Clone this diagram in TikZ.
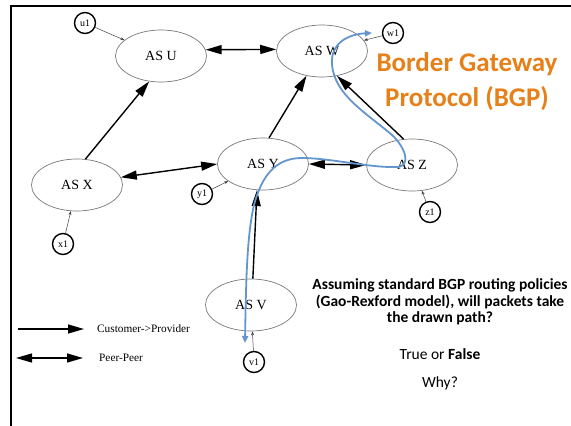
\documentclass[tikz,border=0pt]{standalone}
\usepackage{fontspec}
\setmainfont{Liberation Serif}
\newfontfamily\carlito{Carlito}
\usetikzlibrary{shapes.geometric,arrows.meta}
\definecolor{bgporange}{RGB}{230,128,25}
\definecolor{pathblue}{RGB}{100,150,205}
\definecolor{ellgray}{RGB}{120,120,120}
\begin{document}
\begin{tikzpicture}[x=1pt,y=-1pt,
  asnode/.style={ellipse,draw=ellgray,line width=0.7pt,minimum width=91pt,minimum height=52pt,inner sep=0pt,font=\fontsize{14}{16}\selectfont},
  hostnode/.style={circle,draw=black,line width=1.4pt,minimum size=21pt,inner sep=0pt,font=\fontsize{10}{11}\selectfont},
  hostlink/.style={draw=darkgray,line width=0.5pt,-{Stealth[length=4pt,width=3pt]}},
  cp/.style={line width=1.4pt,-{Triangle[length=16pt,width=9pt]}},
  pp/.style={line width=1.4pt,{Triangle[length=16pt,width=9pt]}-{Triangle[length=16pt,width=9pt]}},
  route/.style={draw=pathblue,line width=1.8pt,{Triangle[length=7pt,width=6pt]}-{Triangle[length=7pt,width=6pt]}},
  legendtext/.style={anchor=west,inner sep=0pt,font=\fontsize{11.3}{13}\selectfont}
  ]
\useasboundingbox (0,0) rectangle (571,426);
\draw[line width=2.5pt] (571,6) -- (11,6) -- (11,426);

% AS nodes
\node[asnode] (U) at (161,56) {AS U};
\node[asnode] (W) at (322,51) {AS W};
\node[asnode] (X) at (77,185) {AS X};
\node[asnode] (Y) at (263,164) {AS Y};
\node[asnode] (Z) at (412,165) {AS Z};
\node[asnode] (V) at (251,305) {AS V};

% host nodes
\node[hostnode] (u1) at (85,23) {u1};
\node[hostnode] (w1) at (393,33) {w1};
\node[hostnode] (y1) at (202,194) {y1};
\node[hostnode] (x1) at (63,244) {x1};
\node[hostnode] (z1) at (430,212) {z1};
\node[hostnode] (v1) at (254,362) {v1};

\draw[hostlink] (u1) -- (U);
\draw[hostlink] (w1) -- (W);
\draw[hostlink] (y1) -- (Y);
\draw[hostlink] (x1) -- (X);
\draw[hostlink] (z1) -- (Z);
\draw[hostlink] (v1) -- (V);

% relationships
\draw[cp] (X.72) -- (U.245);
\draw[pp] (U.8) -- (W.178);
\draw[pp] (X.10) -- (Y.180);
\draw[cp] (Y.77) -- (W.238);
\draw[cp] (Z.108) -- (W.301);
\draw[pp] (Y.0) -- (Z.180);
\draw[cp] (V.86) -- (Y.257);

% drawn path
\draw[route] (245,343) .. controls (246,280) and (247,235) .. (254,205)
  .. controls (262,175) and (276,158) .. (302,158)
  .. controls (330,158) and (370,168) .. (397,167)
  .. controls (412,166) and (405,147) .. (392,135)
  .. controls (365,112) and (335,95) .. (332,65)
  .. controls (330,42) and (350,34) .. (372,33);

% title
\node[text=bgporange,align=center,font=\carlito\bfseries\fontsize{27}{35}\selectfont] (title) at (467,82) {Border Gateway\\Protocol (BGP)};

% question
\node[align=center,font=\carlito\fontsize{15.5}{16.5}\selectfont] (q) at (440,302) {\textbf{Assuming standard BGP routing policies}\\\textbf{(Gao-Rexford model), will packets take}\\\textbf{the drawn path?}};
\node[font=\carlito\fontsize{15.5}{17}\selectfont] (tf) at (440,354) {True or \textbf{False}};
\node[font=\carlito\fontsize{15.5}{17}\selectfont] (why) at (440,383) {Why?};

% legend
\coordinate (lc1) at (18,329);
\coordinate (lc2) at (84,329);
\coordinate (lp1) at (16,358);
\coordinate (lp2) at (83,358);
\draw[cp] (lc1) -- (lc2);
\draw[pp] (lp1) -- (lp2);
\node[legendtext] (lct) at (97,329) {Customer->Provider};
\node[legendtext] (lpt) at (99,358) {Peer-Peer};
\end{tikzpicture}
\end{document}
